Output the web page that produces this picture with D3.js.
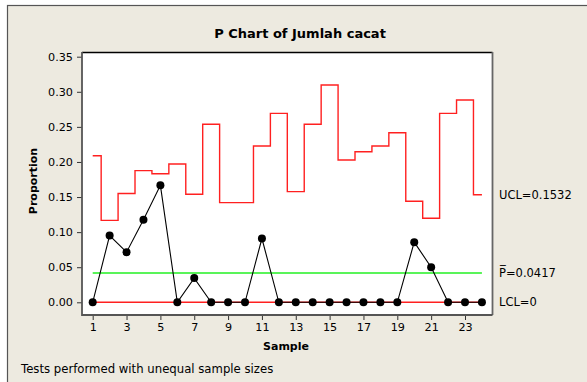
<!DOCTYPE html>
<html><head><meta charset="utf-8">
<script src="https://cdn.jsdelivr.net/npm/d3@7"></script>
<style>body{margin:0;background:#fff}svg{display:block}text{font-family:"DejaVu Sans",Verdana,sans-serif;fill:#000}</style>
</head><body><svg id="c" width="587" height="382"></svg>
<script>
const samples = d3.range(1, 25);
const proportion = [0, 0.0952, 0.0714, 0.1176, 0.1667, 0, 0.0345, 0, 0, 0, 0.0909, 0, 0, 0, 0, 0, 0, 0, 0, 0.0857, 0.05, 0, 0, 0];
const ucl = [0.2089, 0.1168, 0.1550, 0.1876, 0.1833, 0.1971, 0.1539, 0.2537, 0.1420, 0.1420, 0.2228, 0.2693, 0.1577, 0.2537, 0.3097, 0.2028, 0.2146, 0.2228, 0.2417, 0.1439, 0.1197, 0.2693, 0.2883, 0.1532];
const pbar = 0.0417, lcl = 0;
const yTicks = [0, 0.05, 0.10, 0.15, 0.20, 0.25, 0.30, 0.35];
const xTicks = [1, 3, 5, 7, 9, 11, 13, 15, 17, 19, 21, 23];

const svg = d3.select("#c");
svg.append("rect").attr("x", 7.5).attr("y", 5.5).attr("width", 600).attr("height", 400)
  .attr("fill", "#EDEAE0").attr("stroke", "#555").attr("stroke-width", 1.2);

const L = 82, R = 492.5, T = 52, B = 315;
const x = d3.scaleLinear().domain([1, 23]).range([92.7, 465]);
const y = d3.scaleLinear().domain([0, 0.35]).range([302.3, 56.7]);

svg.append("rect").attr("x", L).attr("y", T).attr("width", R - L).attr("height", B - T).attr("fill", "#fff");
svg.append("line").attr("x1", L).attr("x2", R).attr("y1", T + 0.5).attr("y2", T + 0.5).attr("stroke", "#000").attr("stroke-width", 1.5);
svg.append("line").attr("x1", R).attr("x2", R).attr("y1", T).attr("y2", B).attr("stroke", "#666").attr("stroke-width", 1.8);

const yAxis = svg.append("g").attr("transform", `translate(${L},0)`)
  .call(d3.axisLeft(y).tickValues(yTicks).tickFormat(d3.format(".2f")).tickSize(5).tickSizeOuter(0));
const xAxis = svg.append("g").attr("transform", `translate(0,${B})`)
  .call(d3.axisBottom(x).tickValues(xTicks).tickFormat(d3.format("d")).tickSize(5).tickSizeOuter(0));
[yAxis, xAxis].forEach(g => {
  g.select(".domain").remove();
  g.selectAll("line").attr("stroke", "#333");
  g.selectAll("text").style("font-size", "11.2px").attr("fill", "#222");
});
yAxis.selectAll("text").attr("x", -9);
xAxis.selectAll("text").attr("y", 8);
svg.append("line").attr("x1", L).attr("x2", L).attr("y1", T).attr("y2", B + 1).attr("stroke", "#555").attr("stroke-width", 1.8);
svg.append("line").attr("x1", L).attr("x2", R).attr("y1", B).attr("y2", B).attr("stroke", "#555").attr("stroke-width", 1.8);

// UCL step line
const stepPts = [];
samples.forEach((s, i) => {
  const a = Math.max(1, s - 0.5), b = Math.min(24, s + 0.5);
  stepPts.push([x(a), y(ucl[i])], [x(b), y(ucl[i])]);
});
svg.append("path").attr("d", d3.line()(stepPts)).attr("fill", "none").attr("stroke", "#FF2020").attr("stroke-width", 1.4);

svg.append("line").attr("x1", x(1)).attr("x2", x(24)).attr("y1", y(pbar)).attr("y2", y(pbar)).attr("stroke", "#22F022").attr("stroke-width", 1.4);
svg.append("line").attr("x1", x(1)).attr("x2", x(24)).attr("y1", y(lcl)).attr("y2", y(lcl)).attr("stroke", "#FF2020").attr("stroke-width", 1.4);

svg.append("path").attr("d", d3.line().x((d, i) => x(samples[i])).y(d => y(d))(proportion))
  .attr("fill", "none").attr("stroke", "#000").attr("stroke-width", 1.1);
svg.selectAll("circle.pt").data(proportion).join("circle")
  .attr("cx", (d, i) => x(samples[i])).attr("cy", d => y(d)).attr("r", 4).attr("fill", "#000");

svg.append("text").attr("x", 300).attr("y", 38).attr("text-anchor", "middle")
  .style("font-size", "13px").style("font-weight", "bold").text("P Chart of Jumlah cacat");
svg.append("text").attr("x", 286).attr("y", 350).attr("text-anchor", "middle")
  .style("font-size", "11px").style("font-weight", "bold").text("Sample");
svg.append("text").attr("transform", "translate(37,181) rotate(-90)").attr("text-anchor", "middle")
  .style("font-size", "11px").style("font-weight", "bold").text("Proportion");

const lab = (t, v) => svg.append("text").attr("x", 499).attr("y", y(v)).attr("dy", "0.35em").style("font-size", "11.5px").attr("fill", "#222").text(t);
lab("UCL=0.1532", 0.1532);
lab("P\u0305=0.0417", pbar);
lab("LCL=0", lcl);

svg.append("text").attr("x", 21).attr("y", 369).attr("dy", "0.35em").style("font-size", "11.7px").attr("fill", "#222")
  .text("Tests performed with unequal sample sizes");
</script></body></html>
